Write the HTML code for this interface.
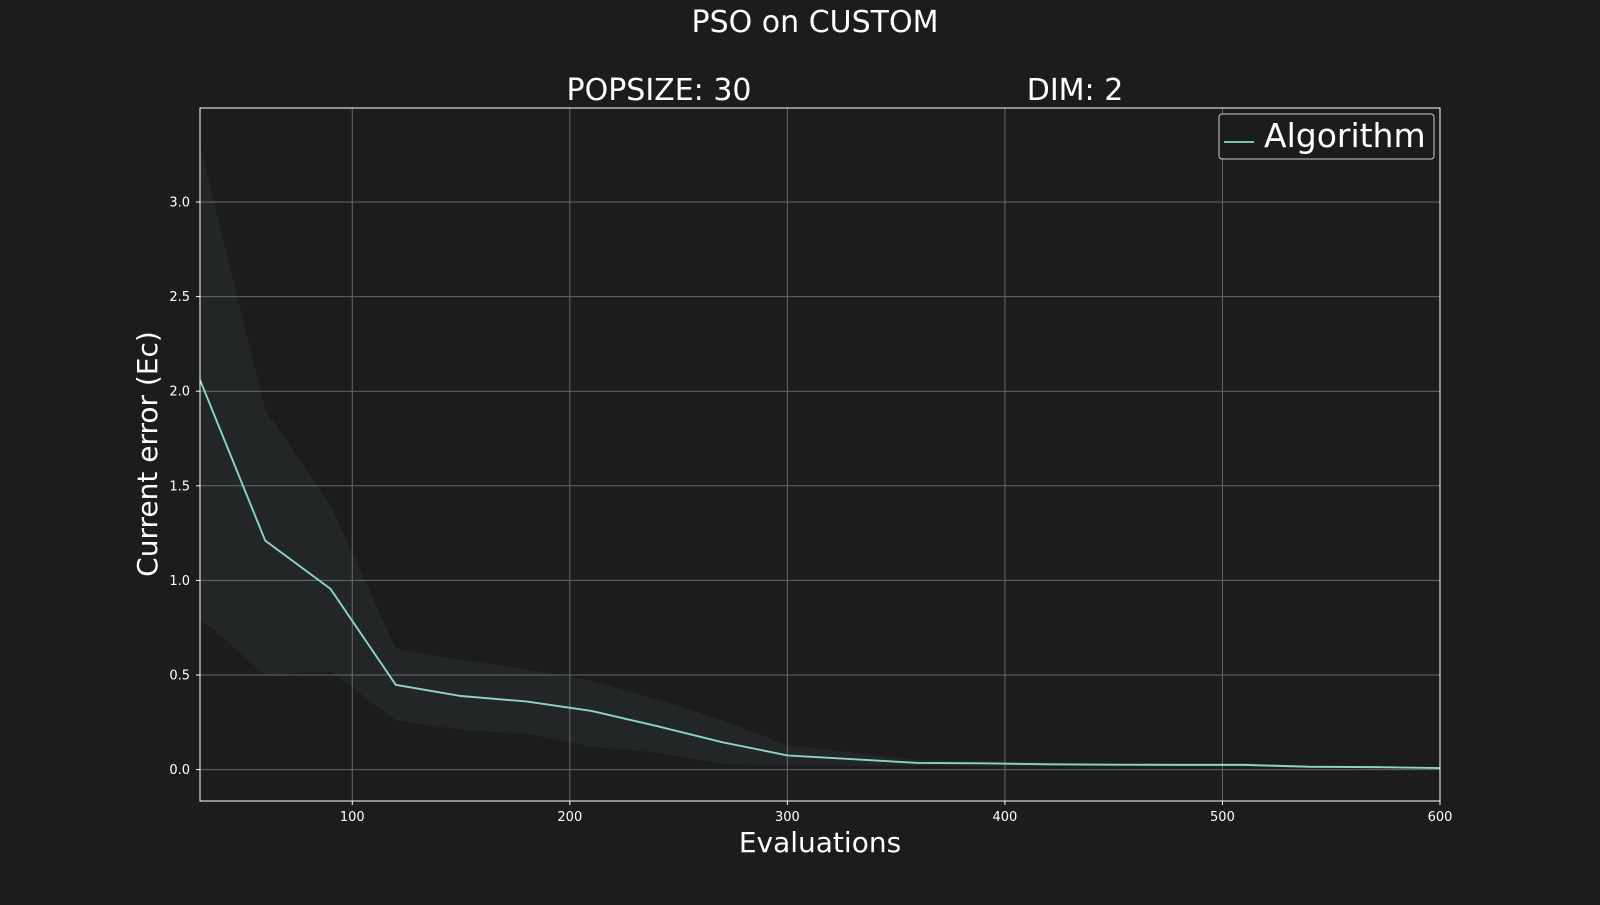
<!DOCTYPE html>
<html><head><meta charset="utf-8"><style>
html,body{margin:0;padding:0;background:#1c1c1c;}
svg text{font-family:"DejaVu Sans","Liberation Sans",sans-serif;fill:#fff;}
</style></head><body>
<svg id="chart" width="1600" height="900" xmlns="http://www.w3.org/2000/svg">
<rect width="1600" height="900" fill="#1c1c1c"/>
<text x="815" y="32" font-size="30" text-anchor="middle">PSO on CUSTOM</text>
<text x="659" y="100" font-size="30" text-anchor="middle">POPSIZE: 30</text>
<text x="1075" y="100" font-size="30" text-anchor="middle">DIM: 2</text>
<g id="grid"></g>
<g id="marks"></g>
<g id="axes"></g>
<text x="820" y="852" font-size="28" text-anchor="middle">Evaluations</text>
<text x="0" y="0" font-size="28" text-anchor="middle" transform="translate(157,454) rotate(-90)">Current error (Ec)</text>
<g>
<rect x="1219" y="114" width="215" height="45" rx="3" fill="#1c1c1c" stroke="#ccc" stroke-width="1"/>
<line x1="1224" y1="142" x2="1254" y2="142" stroke="#8dd3c7" stroke-width="1.8"/>
<text x="1264" y="147" font-size="33">Algorithm</text>
</g>
</svg>
<script>
const evals=[30,60,90,120,150,180,210,240,270,300,330,360,390,420,450,480,510,540,570,600];
const meanErr=[2.06,1.21,0.955,0.448,0.389,0.36,0.31,0.23,0.145,0.075,0.055,0.035,0.033,0.028,0.026,0.025,0.025,0.015,0.013,0.008];
const upperErr=[3.3,1.9,1.4,0.64,0.58,0.53,0.47,0.37,0.26,0.13,0.09,0.05,0.045,0.04,0.035,0.035,0.035,0.02,0.018,0.012];
const lowerErr=[0.8,0.5,0.52,0.26,0.21,0.19,0.12,0.09,0.03,0.02,0.02,0.02,0.018,0.018,0.016,0.015,0.015,0.008,0.006,0.004];
const xTicks=[100,200,300,400,500,600];
const yTicks=[0.0,0.5,1.0,1.5,2.0,2.5,3.0];
const L=200,R=1440,T=108,B=801,xMin=30,xMax=600,yMin=-0.166,yMax=3.497;
const NS="http://www.w3.org/2000/svg";
function sx(v){return L+(v-xMin)/(xMax-xMin)*(R-L);}
function sy(v){return B-(v-yMin)/(yMax-yMin)*(B-T);}
function mk(tag,attrs,parent){const e=document.createElementNS(NS,tag);for(const k in attrs)e.setAttribute(k,attrs[k]);parent.appendChild(e);return e;}
const grid=document.getElementById('grid'),marks=document.getElementById('marks'),axes=document.getElementById('axes');
xTicks.forEach(t=>{
 const g=mk('line',{x1:sx(t),x2:sx(t),y1:T,y2:B,stroke:'#666','stroke-width':1},grid);
 
 
 const tk=mk('line',{x1:sx(t),x2:sx(t),y1:B,y2:B+4,stroke:'#fff','stroke-width':1},axes);
 
 
 const lb=mk('text',{x:sx(t),y:B+20,'font-size':13,'text-anchor':'middle'},axes);
 lb.textContent=String(t);
 
 
});
yTicks.forEach(t=>{
 const g=mk('line',{x1:L,x2:R,y1:sy(t),y2:sy(t),stroke:'#666','stroke-width':1},grid);
 
 
 const tk=mk('line',{x1:L-4,x2:L,y1:sy(t),y2:sy(t),stroke:'#fff','stroke-width':1},axes);
 
 
 const lb=mk('text',{x:L-10,y:sy(t)+4.5,'font-size':13,'text-anchor':'end'},axes);
 lb.textContent=t.toFixed(1);
 
 
});
let d='';
evals.forEach((x,i)=>{d+=(i?'L':'M')+sx(x)+','+sy(upperErr[i]);});
for(let i=evals.length-1;i>=0;i--)d+='L'+sx(evals[i])+','+sy(lowerErr[i]);
const band=mk('path',{d:d+'Z',fill:'#8dd3c7','fill-opacity':0.06,stroke:'none'},marks);


const pts=evals.map((x,i)=>sx(x)+','+sy(meanErr[i])).join(' ');
const line=mk('polyline',{points:pts,fill:'none',stroke:'#8dd3c7','stroke-width':1.9},marks);


const frame=mk('rect',{x:L,y:T,width:R-L,height:B-T,fill:'none',stroke:'#fff','stroke-width':1},axes);


</script>
</body></html>
